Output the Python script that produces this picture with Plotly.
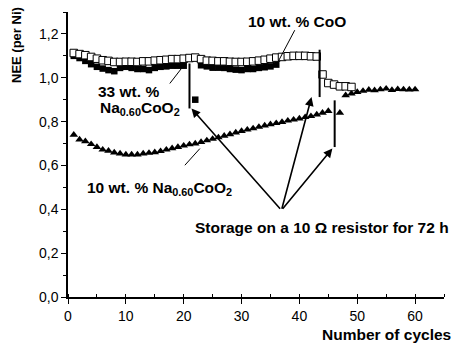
import plotly.graph_objects as go

# ---------------- data ----------------
coo_cycles = list(range(1, 44)) + [44, 45, 46, 47, 48, 49]
coo_nee = [1.113, 1.108, 1.103, 1.095, 1.087, 1.080, 1.077, 1.072, 1.072, 1.073,
           1.073, 1.072, 1.075, 1.075, 1.078, 1.080, 1.082, 1.085, 1.085, 1.087,
           1.090, 1.092, 1.085, 1.078, 1.077, 1.075, 1.075, 1.073, 1.072, 1.072,
           1.073, 1.075, 1.078, 1.082, 1.087, 1.092, 1.095, 1.098, 1.100, 1.100,
           1.100, 1.098, 1.097,
           1.015, 0.976, 0.969, 0.961, 0.961, 0.958]

na33_cycles = list(range(1, 21)) + [22] + list(range(23, 37))
na33_nee = [1.100, 1.090, 1.077, 1.062, 1.050, 1.042, 1.035, 1.030, 1.045, 1.050,
            1.045, 1.040, 1.040, 1.035, 1.045, 1.050, 1.052, 1.055, 1.055, 1.055,
            0.900,
            1.057, 1.052, 1.046, 1.046, 1.045, 1.040, 1.037, 1.035, 1.040, 1.040,
            1.045, 1.048, 1.052, 1.060]

na10_cycles = list(range(1, 46)) + list(range(47, 61))
na10_nee = [0.740, 0.718, 0.710, 0.697, 0.684, 0.672, 0.667, 0.659, 0.654, 0.650,
            0.650, 0.650, 0.654, 0.657, 0.660, 0.665, 0.672, 0.678, 0.684, 0.690,
            0.696, 0.700, 0.707, 0.714, 0.721, 0.728, 0.735, 0.742, 0.750, 0.757,
            0.763, 0.769, 0.776, 0.782, 0.788, 0.793, 0.798, 0.804, 0.809, 0.814,
            0.820, 0.825, 0.832, 0.840, 0.848,
            0.840, 0.920, 0.928, 0.935, 0.940, 0.945, 0.943, 0.947, 0.950, 0.944,
            0.948, 0.947, 0.946, 0.947]

# storage marks (vertical bars) and arrow tips
storage_x = [21, 43.5, 46.1]
storage_top = [1.065, 1.128, 0.897]
storage_bottom = [0.86, 0.912, 0.684]
arrow_origin = (36.9, 0.396)
arrow_tips = [(21.35, 0.86), (42.1, 0.912), (45.7, 0.677)]

y_ticks = [0.0, 0.2, 0.4, 0.6, 0.8, 1.0, 1.2]
y_ticktext = ["0,0", "0,2", "0,4", "0,6", "0,8", "1,0", "1,2"]
x_ticks = [0, 10, 20, 30, 40, 50, 60]

FONT = "Liberation Sans, Arial, sans-serif"

fig = go.Figure()

fig.add_trace(go.Scatter(
    x=na10_cycles, y=na10_nee, mode="markers",
    marker=dict(symbol="triangle-up", size=7.5, color="black"),
    showlegend=False))
fig.add_trace(go.Scatter(
    x=na33_cycles, y=na33_nee, mode="markers",
    marker=dict(symbol="square", size=6.5, color="black"),
    showlegend=False))
fig.add_trace(go.Scatter(
    x=coo_cycles, y=coo_nee, mode="markers",
    marker=dict(symbol="square", size=7.5, color="white",
                line=dict(color="black", width=1)),
    showlegend=False))

shapes = []
for sx, st, sb in zip(storage_x, storage_top, storage_bottom):
    shapes.append(dict(type="line", xref="x", yref="y", x0=sx, x1=sx, y0=sb, y1=st,
                       line=dict(color="black", width=2)))
# leader lines
leaders = [((39.2, 1.217), (36.3, 1.072)),
           ((17.6, 0.974), (19.6, 1.042)),
           ((20.2, 0.601), (22.8, 0.677))]
for (a, b) in leaders:
    shapes.append(dict(type="line", xref="x", yref="y", x0=a[0], y0=a[1], x1=b[0], y1=b[1],
                       line=dict(color="black", width=1)))

annotations = []
for tx, ty in arrow_tips:
    annotations.append(dict(x=tx, y=ty, ax=arrow_origin[0], ay=arrow_origin[1],
                            xref="x", yref="y", axref="x", ayref="y",
                            showarrow=True, arrowhead=2, arrowsize=1.1,
                            arrowwidth=1.6, arrowcolor="black", text=""))

bold = dict(family=FONT, size=15.5, color="black")
annotations += [
    dict(x=39.65, y=1.258, xref="x", yref="y", text="<b>10 wt. % CoO</b>",
         showarrow=False, xanchor="center", yanchor="middle", font=bold),
    dict(x=4.9, y=0.939, xref="x", yref="y", text="<b>33 wt. %</b>",
         showarrow=False, xanchor="left", yanchor="middle", font=bold),
    dict(x=5.2, y=0.86, xref="x", yref="y",
         text="<b>Na<sub>0.60</sub>CoO<sub>2</sub></b>",
         showarrow=False, xanchor="left", yanchor="middle", font=bold),
    dict(x=2.9, y=0.495, xref="x", yref="y",
         text="<b>10 wt. % Na<sub>0.60</sub>CoO<sub>2</sub></b>",
         showarrow=False, xanchor="left", yanchor="middle", font=bold),
    dict(x=21.6, y=0.316, xref="x", yref="y",
         text="<b>Storage on a 10 \u03a9 resistor for 72 h</b>",
         showarrow=False, xanchor="left", yanchor="middle", font=bold),
    dict(x=55.1, y=-0.133, xref="x", yref="paper", text="<b>Number of cycles</b>",
         showarrow=False, xanchor="center", yanchor="middle", font=bold),
    dict(x=-0.1365, y=1.148, xref="paper", yref="y", text="<b>NEE (per Ni)</b>",
         textangle=-90, showarrow=False, xanchor="center", yanchor="middle",
         font=dict(family=FONT, size=13, color="black")),
]

fig.update_layout(
    width=452, height=343,
    margin=dict(l=68, r=8, t=12, b=46),
    paper_bgcolor="white", plot_bgcolor="white",
    shapes=shapes, annotations=annotations,
    xaxis=dict(range=[0, 65], tickvals=x_ticks, showline=True, linecolor="black",
               linewidth=1.5, ticks="outside", ticklen=5, tickwidth=1.2,
               tickcolor="black", showgrid=False, zeroline=False,
               tickfont=dict(family=FONT, size=14, color="black"),
               minor=dict(dtick=5, tick0=0, ticks="inside", ticklen=3,
                          tickcolor="black", tickwidth=1.2)),
    yaxis=dict(range=[0, 1.3], tickvals=y_ticks, ticktext=y_ticktext, showline=True,
               linecolor="black", linewidth=1.5, ticks="outside", ticklen=5,
               tickwidth=1.2, tickcolor="black", showgrid=False, zeroline=False,
               tickfont=dict(family=FONT, size=14, color="black"),
               minor=dict(dtick=0.1, tick0=0, ticks="outside", ticklen=3,
                          tickcolor="black", tickwidth=1.2)),
)

# remove the page's default body margin so the figure fills the window exactly
fig.write_html("out.html",
               config={"displayModeBar": False},
               post_script="document.body.style.margin='0';"
                           "document.body.style.overflow='hidden';")
